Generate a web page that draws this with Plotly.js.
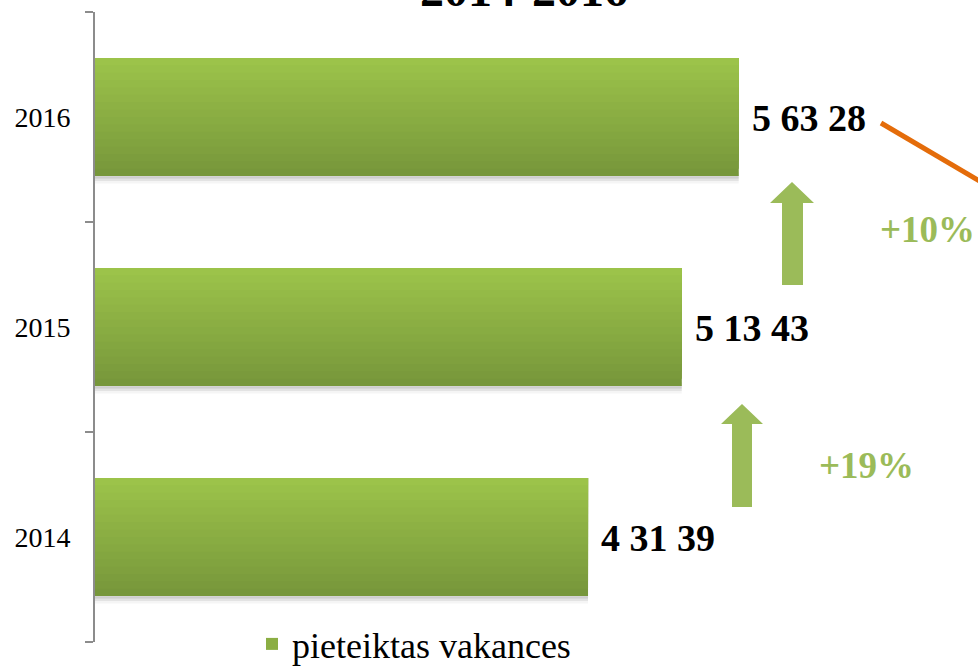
<!DOCTYPE html>
<html>
<head>
<meta charset="utf-8">
<script src="https://cdn.plot.ly/plotly-3.0.1.min.js"></script>
<style>
  html, body { margin: 0; padding: 0; background: #fff; }
  #chart { width: 978px; height: 667px; }
</style>
</head>
<body>
<div id="chart"></div>
<script>
"use strict"
var years = ['2014', '2015', '2016'];
var vacancies = [43139, 51343, 56328];
var valueLabels = ['4 31 39', '5 13 43', '5 63 28'];
var growthLabels = ['+19%', '+10%'];
var seriesName = 'pieteiktas vakances';
var titleText = '2014-2016';

// plot box in pixels, used to place the decorations
var L = 95, T = 12, W = 883, H = 630;
function px(x) { return (x - L) / W; }
function py(y) { return (T + H - y) / H; }

var lightGreen = [157, 196, 75];
var darkGreen = [118, 150, 58];
var slices = 16;
var half = 0.281;
var step = 2 * half / slices;

var data = [];

// soft shadow under each bar
[0.10, 0.07, 0.04].forEach(function (a, i) {
  data.push({
    type: 'bar',
    orientation: 'h',
    x: vacancies,
    y: years,
    offset: -half - 0.012 * (i + 1),
    width: 0.03,
    marker: { color: 'rgba(0,0,0,' + a + ')', line: { width: 0 } },
    showlegend: false,
    hoverinfo: 'skip'
  });
});

// vertical gradient: each slice runs from its start to the bar top,
// lighter slices drawn over darker ones
for (var k = 0; k < slices; k++) {
  var t = (k + 0.5) / slices;
  var c = [0, 1, 2].map(function (i) { return Math.round(darkGreen[i] + (lightGreen[i] - darkGreen[i]) * t); });
  data.push({
    type: 'bar',
    orientation: 'h',
    x: vacancies,
    y: years,
    offset: -half + k * step,
    width: 2 * half - k * step,
    name: seriesName,
    marker: { color: 'rgb(' + c.join(',') + ')', line: { width: 0 } },
    showlegend: k === Math.floor(slices / 2),
    hoverinfo: 'x+y'
  });
}

// value labels next to the bar ends (y given as category index)
var annotations = years.map(function (y, i) {
  return {
    x: vacancies[i], y: i, xref: 'x', yref: 'y',
    text: '<b>' + valueLabels[i] + '</b>',
    showarrow: false, xanchor: 'left', yanchor: 'middle', xshift: 11, yshift: -1,
    font: { family: 'Liberation Serif', size: 38, color: '#000' }
  };
});

annotations.push({
  x: px(524), y: py(-10), xref: 'paper', yref: 'paper',
  text: '<b>' + titleText + '</b>', showarrow: false,
  xanchor: 'center', yanchor: 'middle',
  font: { family: 'Liberation Serif', size: 48, color: '#000' }
});

var growthPos = [[866, 465], [927, 229]];
growthLabels.forEach(function (g, i) {
  annotations.push({
    x: px(growthPos[i][0]), y: py(growthPos[i][1]), xref: 'paper', yref: 'paper',
    text: '<b>' + g + '</b>', showarrow: false,
    xanchor: 'center', yanchor: 'middle',
    font: { family: 'Liberation Serif', size: 37, color: '#9BBB59' }
  });
});

// up arrows: [shaftL, shaftR, headL, headR, tipX, tipY, headBaseY, bottomY]
var arrows = [
  [732, 752, 721, 763, 742, 404, 424, 507],
  [782, 803, 770, 814, 792, 182, 203, 285]
];
var shapes = arrows.map(function (a) {
  var p = 'M' + px(a[0]) + ',' + py(a[7]) +
    ' L' + px(a[0]) + ',' + py(a[6]) +
    ' L' + px(a[2]) + ',' + py(a[6]) +
    ' L' + px(a[4]) + ',' + py(a[5]) +
    ' L' + px(a[3]) + ',' + py(a[6]) +
    ' L' + px(a[1]) + ',' + py(a[6]) +
    ' L' + px(a[1]) + ',' + py(a[7]) + ' Z';
  return { type: 'path', xref: 'paper', yref: 'paper', path: p,
    fillcolor: '#9BBB59', line: { width: 0 } };
});

shapes.push({
  type: 'line', xref: 'paper', yref: 'paper',
  x0: px(881), y0: py(123), x1: px(1000), y1: py(193),
  line: { color: '#E46C0A', width: 5 }
});

var layout = {
  width: 978,
  height: 667,
  margin: { l: L, r: 978 - L - W, t: T, b: 667 - T - H, autoexpand: false },
  paper_bgcolor: '#fff',
  plot_bgcolor: '#fff',
  barmode: 'overlay',
  showlegend: true,
  legend: {
    orientation: 'h',
    x: px(252), xanchor: 'left',
    y: py(614), yanchor: 'top',
    bgcolor: 'rgba(0,0,0,0)',
    font: { family: 'Liberation Serif', size: 36, color: '#000' }
  },
  xaxis: {
    range: [0, 77260],
    showticklabels: false,
    showline: false,
    ticks: '',
    showgrid: false,
    zeroline: false
  },
  yaxis: {
    type: 'category',
    categoryorder: 'array',
    categoryarray: years,
    range: [-0.5, 2.5],
    showline: true,
    linecolor: '#8c8c8c',
    linewidth: 2,
    ticks: 'outside',
    tickson: 'boundaries',
    ticklen: 8,
    tickwidth: 2,
    tickcolor: '#8c8c8c',
    ticklabelstandoff: 17,
    showgrid: false,
    zeroline: false,
    tickfont: { family: 'Liberation Serif', size: 28, color: '#000' }
  },
  annotations: annotations,
  shapes: shapes
};

Plotly.newPlot('chart', data, layout, { displayModeBar: false, staticPlot: true });
</script>
</body>
</html>
